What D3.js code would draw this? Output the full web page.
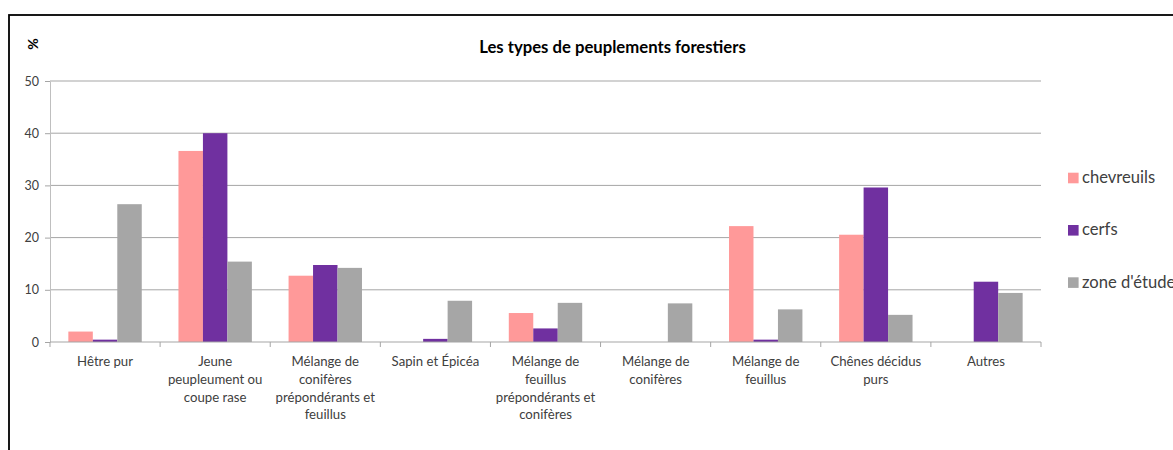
<!DOCTYPE html>
<html>
<head>
<meta charset="utf-8">
<script src="https://cdn.jsdelivr.net/npm/d3@7"></script>
<style>
  html, body { margin: 0; padding: 0; background: #fff; }
  svg { display: block; font-family: Lato, "Open Sans", sans-serif; }
</style>
</head>
<body>
<svg id="chart" width="1173" height="450"></svg>
<script>
// Forest stand types, share (%) of each group
const categories = [
  "Hêtre pur",
  "Jeune\npeupleument ou\ncoupe rase",
  "Mélange de\nconifères\nprépondérants et\nfeuillus",
  "Sapin et Épicéa",
  "Mélange de\nfeuillus\nprépondérants et\nconifères",
  "Mélange de\nconifères",
  "Mélange de\nfeuillus",
  "Chênes décidus\npurs",
  "Autres"
];
const seriesNames = ["chevreuils", "cerfs", "zone d'étude"];
const chevreuils = [2.0, 36.6, 12.7, 0, 5.55, 0, 22.2, 20.55, 0];
const cerfs      = [0.45, 40.0, 14.75, 0.6, 2.6, 0, 0.45, 29.6, 11.55];
const zoneEtude  = [26.4, 15.4, 14.2, 7.9, 7.5, 7.4, 6.25, 5.2, 9.4];
const yTicks = [0, 10, 20, 30, 40, 50];
const colors = ["#FF9999", "#7030A0", "#A6A6A6"];

const series = [chevreuils, cerfs, zoneEtude];

const svg = d3.select("#chart");

// outer frame of the chart area
svg.append("rect")
  .attr("x", 9).attr("y", 15)
  .attr("width", 1300).attr("height", 600)
  .attr("fill", "none").attr("stroke", "#000").attr("stroke-width", 1.8);

const plotLeft = 50, plotRight = 1041, plotTop = 81, plotBottom = 342;

const x = d3.scaleBand().domain(d3.range(categories.length)).range([plotLeft, plotRight]).paddingInner(0).paddingOuter(0);
const x1 = d3.scaleBand().domain(d3.range(series.length)).range([0, x.bandwidth()]).paddingOuter(0.75).paddingInner(0);
const y = d3.scaleLinear().domain([0, 50]).range([plotBottom, plotTop]);

// horizontal gridlines
svg.append("g")
  .selectAll("line")
  .data(yTicks.filter(t => t > 0))
  .join("line")
  .attr("x1", plotLeft).attr("x2", plotRight)
  .attr("y1", d => y(d)).attr("y2", d => y(d))
  .attr("stroke", "#A5A5A5").attr("stroke-width", 1);

// y axis
const yAxis = svg.append("g")
  .attr("transform", `translate(${plotLeft},0)`)
  .call(d3.axisLeft(y).tickValues(yTicks).tickSize(5).tickPadding(6).tickSizeOuter(0));
yAxis.select(".domain").attr("stroke", "#BFBFBF");
yAxis.selectAll(".tick line").attr("stroke", "#A5A5A5");
yAxis.selectAll("text")
  .attr("font-size", 12.5).attr("fill", "#404040")
  .attr("font-family", "Lato, sans-serif");

// bars
const groups = svg.append("g")
  .selectAll("g")
  .data(series)
  .join("g")
  .attr("fill", (d, i) => colors[i]);

groups.each(function(vals, si) {
  d3.select(this).selectAll("rect")
    .data(vals)
    .join("rect")
    .attr("x", (d, ci) => x(ci) + x1(si))
    .attr("width", x1.bandwidth())
    .attr("y", d => y(d))
    .attr("height", d => y(0) - y(d));
});

// x axis
const xAxis = svg.append("g")
  .attr("transform", `translate(0,${plotBottom})`);
xAxis.append("line")
  .attr("x1", plotLeft).attr("x2", plotRight)
  .attr("stroke", "#A5A5A5");
xAxis.selectAll(".tk")
  .data(d3.range(categories.length + 1))
  .join("line")
  .attr("class", "tk")
  .attr("x1", d => plotLeft + d * x.bandwidth()).attr("x2", d => plotLeft + d * x.bandwidth())
  .attr("y1", 0).attr("y2", 5)
  .attr("stroke", "#A5A5A5");

// category labels, one tspan per line
const labels = svg.append("g")
  .attr("font-size", 13.2).attr("fill", "#404040").attr("text-anchor", "middle");
labels.selectAll("text")
  .data(categories)
  .join("text")
  .attr("transform", (d, i) => `translate(${x(i) + x.bandwidth() / 2},366)`)
  .selectAll("tspan")
  .data(d => d.split("\n"))
  .join("tspan")
  .attr("x", 0)
  .attr("y", (d, i) => i * 17.8)
  .text(d => d);

// title
svg.append("text")
  .attr("x", 612.5).attr("y", 53)
  .attr("text-anchor", "middle")
  .attr("font-size", 16.7).attr("font-weight", "bold").attr("fill", "#000")
  .text("Les types de peuplements forestiers");

// y axis unit
svg.append("text")
  .attr("transform", "translate(38,44) rotate(-90)")
  .attr("text-anchor", "middle")
  .attr("font-size", 14).attr("font-weight", "bold").attr("fill", "#000")
  .text("%");

// legend
const legend = svg.append("g")
  .selectAll("g")
  .data(seriesNames)
  .join("g")
  .attr("transform", (d, i) => `translate(1068,${178 + i * 52.3})`);
legend.append("rect")
  .attr("x", 0).attr("y", -5.3)
  .attr("width", 10.6).attr("height", 10.6)
  .attr("fill", (d, i) => colors[i]);
legend.append("text")
  .attr("x", 14).attr("y", 5)
  .attr("font-size", 16.6).attr("fill", "#404040")
  .text(d => d);
</script>
</body>
</html>
